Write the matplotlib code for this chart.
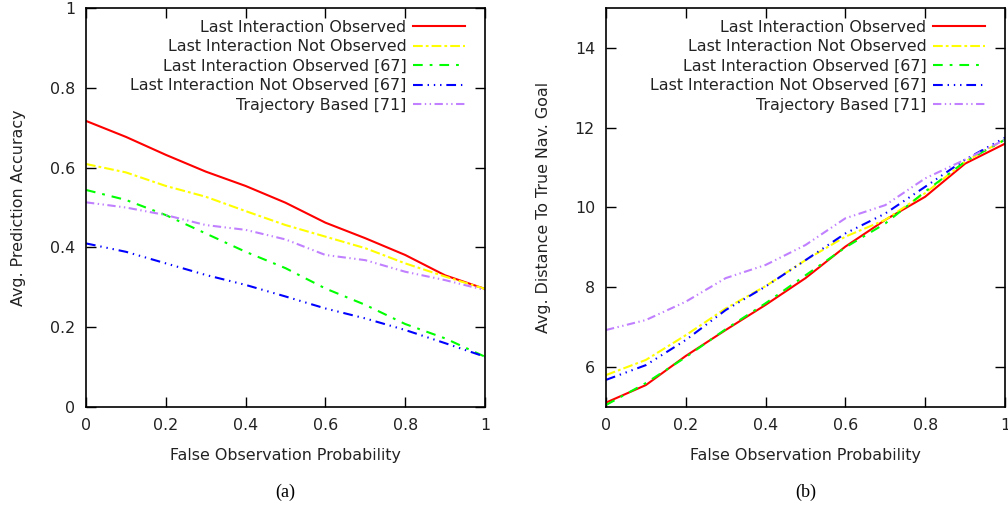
import matplotlib
matplotlib.use("Agg")
import matplotlib.pyplot as plt

plt.rcParams['lines.scale_dashes'] = False

# data
prob = [0, 0.1, 0.2, 0.3, 0.4, 0.5, 0.6, 0.7, 0.8, 0.9, 1.0]

labels = ['Last Interaction Observed', 'Last Interaction Not Observed',
          'Last Interaction Observed [67]', 'Last Interaction Not Observed [67]',
          'Trajectory Based [71]']

# (a) avg prediction accuracy
acc_obs = [0.717, 0.677, 0.632, 0.590, 0.554, 0.512, 0.462, 0.423, 0.381, 0.330, 0.296]
acc_not_obs = [0.609, 0.588, 0.554, 0.527, 0.491, 0.456, 0.427, 0.398, 0.360, 0.327, 0.296]
acc_obs67 = [0.544, 0.519, 0.481, 0.435, 0.389, 0.348, 0.297, 0.256, 0.208, 0.172, 0.126]
acc_not_obs67 = [0.410, 0.389, 0.360, 0.331, 0.306, 0.277, 0.247, 0.222, 0.193, 0.160, 0.126]
acc_traj = [0.513, 0.500, 0.481, 0.456, 0.444, 0.420, 0.381, 0.368, 0.339, 0.318, 0.293]

# (b) avg distance to true nav goal
dist_obs = [5.11, 5.55, 6.28, 6.93, 7.56, 8.23, 9.02, 9.69, 10.27, 11.10, 11.60]
dist_not_obs = [5.80, 6.18, 6.80, 7.47, 8.03, 8.68, 9.27, 9.69, 10.36, 11.15, 11.70]
dist_obs67 = [5.05, 5.60, 6.25, 6.95, 7.60, 8.30, 9.00, 9.60, 10.40, 11.15, 11.70]
dist_not_obs67 = [5.68, 6.05, 6.68, 7.43, 8.02, 8.68, 9.35, 9.85, 10.52, 11.20, 11.75]
dist_traj = [6.93, 7.18, 7.64, 8.23, 8.56, 9.06, 9.73, 10.06, 10.73, 11.20, 11.70]

colors = ['#ff0000', '#ffff00', '#00ff00', '#0000ff', '#c080ff']
dashes = [None, (7, 2.2, 2, 2.2), (7, 5, 2, 5), (7, 3.5, 1, 3.5, 1, 3.5, 1, 3.5),
          (6, 2.5, 1, 2.5, 1, 2.5)]

fig = plt.figure(figsize=(10.08, 5.08), dpi=100)
ax1 = fig.add_axes([86/1008, 101/508, 399/1008, 399/508])
ax2 = fig.add_axes([606/1008, 101/508, 399/1008, 399/508])

txt = '#222222'
fs = 11.4


def draw(ax, series, ylim, yticks, ylabel, caption):
    for ys, c, d, lab in zip(series, colors, dashes, labels):
        ln, = ax.plot(prob, ys, color=c, lw=1.5, label=lab)
        if d is not None:
            ln.set_dashes(d)
    ax.set_xlim(0, 1)
    ax.set_ylim(*ylim)
    ax.set_xticks([0, 0.2, 0.4, 0.6, 0.8, 1])
    ax.set_xticklabels(['0', '0.2', '0.4', '0.6', '0.8', '1'])
    ax.set_yticks(yticks)
    ax.set_yticklabels([('%g' % t) for t in yticks])
    ax.tick_params(direction='in', length=7, width=1, top=True, right=True,
                   labelsize=fs, colors='black', labelcolor=txt, pad=8)
    for s in ax.spines.values():
        s.set_linewidth(1.2)
    ax.set_xlabel('False Observation Probability', fontsize=fs, color=txt, labelpad=11)
    ax.set_ylabel(ylabel, fontsize=fs, color=txt, labelpad=17)
    ax.legend(loc='upper right', frameon=False, markerfirst=False, fontsize=fs,
              handlelength=3.3, handletextpad=0.4, labelspacing=0.28,
              borderaxespad=0.35, labelcolor=txt, bbox_to_anchor=(0.98, 1.0))
    ax.text(0.5, -0.215, caption, transform=ax.transAxes, ha='center', va='center',
            fontsize=13, family='Liberation Serif')


draw(ax1, [acc_obs, acc_not_obs, acc_obs67, acc_not_obs67, acc_traj],
     (0, 1), [0, 0.2, 0.4, 0.6, 0.8, 1], 'Avg. Prediction Accuracy', '(a)')
draw(ax2, [dist_obs, dist_not_obs, dist_obs67, dist_not_obs67, dist_traj],
     (5, 15), [6, 8, 10, 12, 14], 'Avg. Distance To True Nav. Goal', '(b)')

fig.savefig('out.png', dpi=100)
